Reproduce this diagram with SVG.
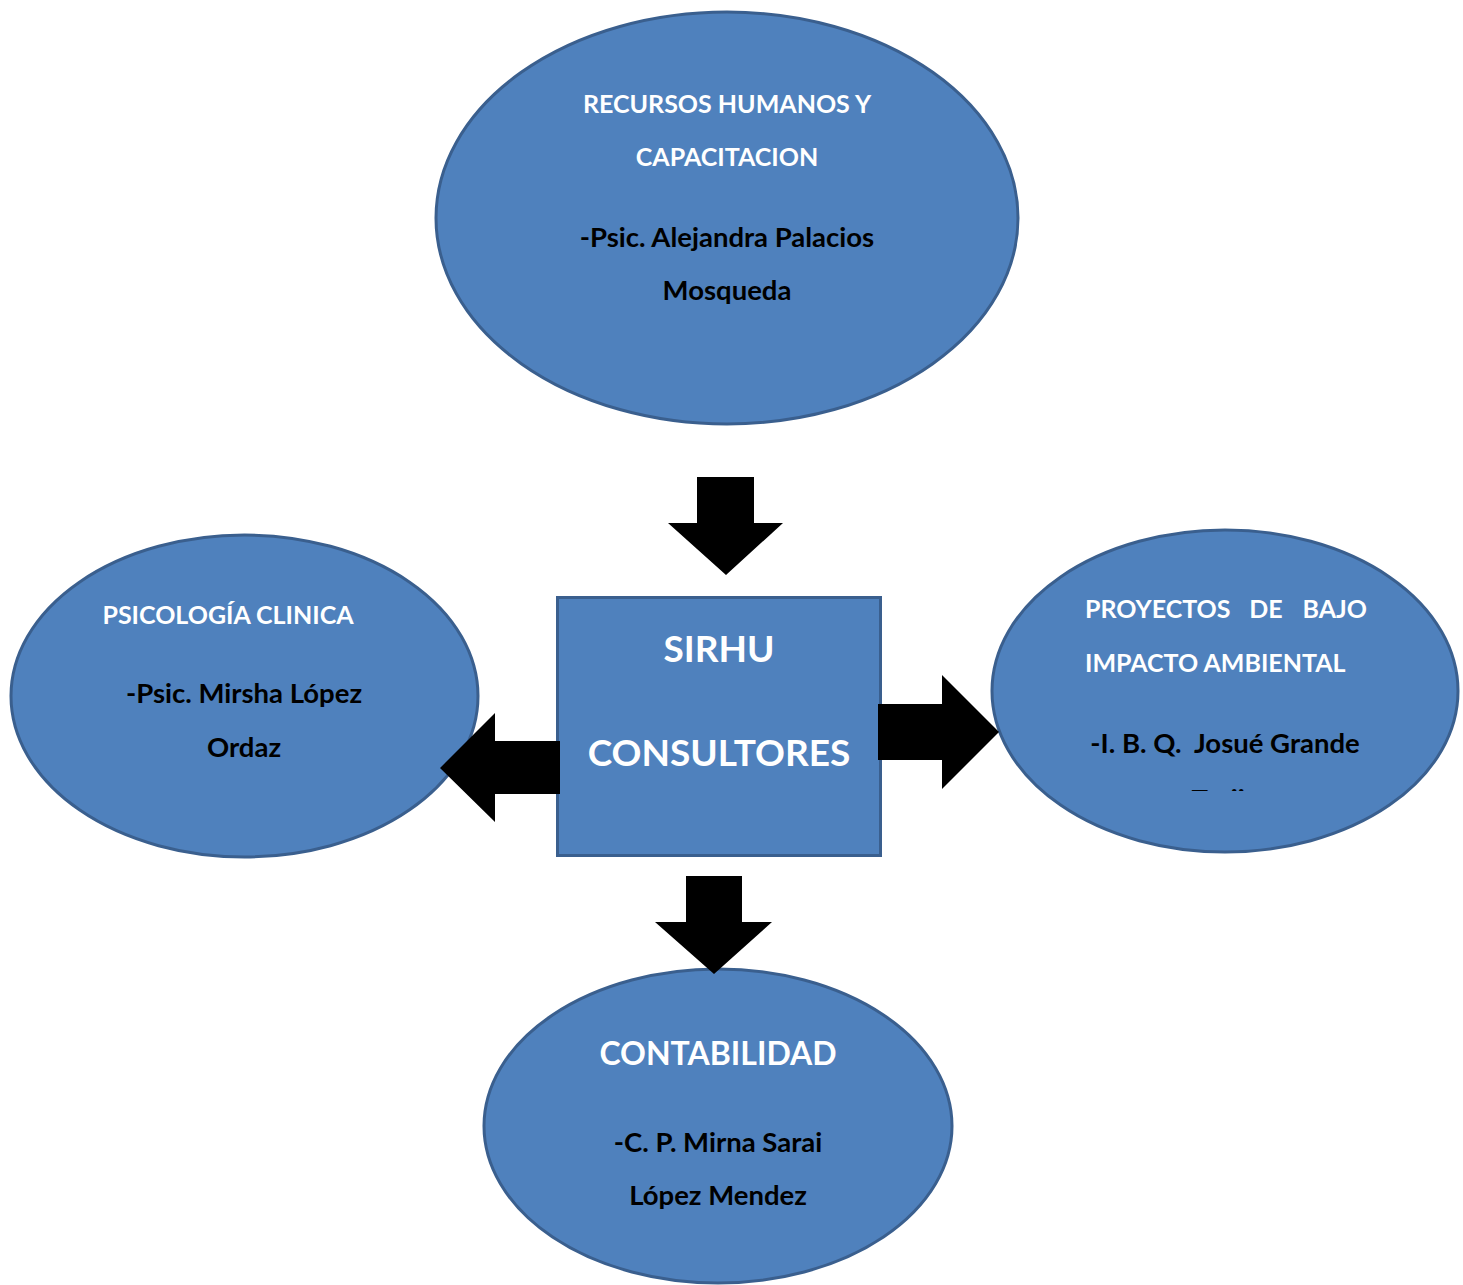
<svg xmlns="http://www.w3.org/2000/svg" width="1463" height="1285" viewBox="0 0 1463 1285">
<style>
.shape{fill:#4F81BD;stroke:#3A5F8E;stroke-width:3}
.t{font-family:Lato,"Open Sans","Liberation Sans",sans-serif;font-weight:bold;font-size:25px;white-space:pre}
.w{fill:#FFFFFF}
.k{fill:#000000;font-size:27.5px}
.big{font-size:37px}
.mid{font-size:32px}
.arrow{fill:#000000}
</style>
<defs>
<clipPath id="clipRight"><rect x="990" y="520" width="473" height="271"/></clipPath>
</defs>
<rect width="1463" height="1285" fill="#FFFFFF"/>
<g id="node-rrhh">
<ellipse class="shape" cx="727" cy="218" rx="291" ry="206"/>
<text class="t w" x="727" y="113" text-anchor="middle">RECURSOS HUMANOS Y</text>
<text class="t w" x="727" y="166" text-anchor="middle">CAPACITACION</text>
<text class="t k" x="727" y="247" text-anchor="middle">-Psic. Alejandra Palacios</text>
<text class="t k" x="727" y="300" text-anchor="middle">Mosqueda</text>
</g>
<g id="node-psicologia">
<ellipse class="shape" cx="244.5" cy="696" rx="233.5" ry="161"/>
<text class="t w" x="228" y="624" text-anchor="middle">PSICOLOGÍA CLINICA</text>
<text class="t k" x="244" y="703" text-anchor="middle">-Psic. Mirsha López</text>
<text class="t k" x="244" y="757" text-anchor="middle">Ordaz</text>
</g>
<g id="node-proyectos">
<ellipse class="shape" cx="1225" cy="691" rx="233" ry="161"/>
<text class="t w" x="1085" y="618">PROYECTOS</text>
<text class="t w" x="1266" y="618" text-anchor="middle">DE</text>
<text class="t w" x="1367" y="618" text-anchor="end">BAJO</text>
<text class="t w" x="1085" y="672">IMPACTO AMBIENTAL</text>
<text class="t k" x="1225" y="753" text-anchor="middle" xml:space="preserve">-I. B. Q.  Josué Grande</text>
<text class="t k" x="1225" y="809" text-anchor="middle" clip-path="url(#clipRight)">Torija</text>
</g>
<g id="node-contabilidad">
<ellipse class="shape" cx="718" cy="1126" rx="234" ry="157"/>
<text class="t w mid" x="718" y="1065" text-anchor="middle">CONTABILIDAD</text>
<text class="t k" x="718" y="1152" text-anchor="middle">-C. P. Mirna Sarai</text>
<text class="t k" x="718" y="1205" text-anchor="middle">López Mendez</text>
</g>
<g id="node-sirhu">
<rect class="shape" x="557.5" y="597.5" width="323" height="258"/>
<text class="t w big" x="719" y="662" text-anchor="middle">SIRHU</text>
<text class="t w big" x="719" y="766" text-anchor="middle">CONSULTORES</text>
</g>
<g id="connectors">
<polygon class="arrow" points="697,477 754,477 754,523 783,523 726,575 668,523 697,523"/>
<polygon class="arrow" points="878,704 942,704 942,675 999,732 942,789 942,760 878,760"/>
<polygon class="arrow" points="560,741 495,741 495,713 440,768 495,822 495,794 560,794"/>
<polygon class="arrow" points="686,876 742,876 742,922 772,922 714,974 655,922 686,922"/>
</g>
</svg>
